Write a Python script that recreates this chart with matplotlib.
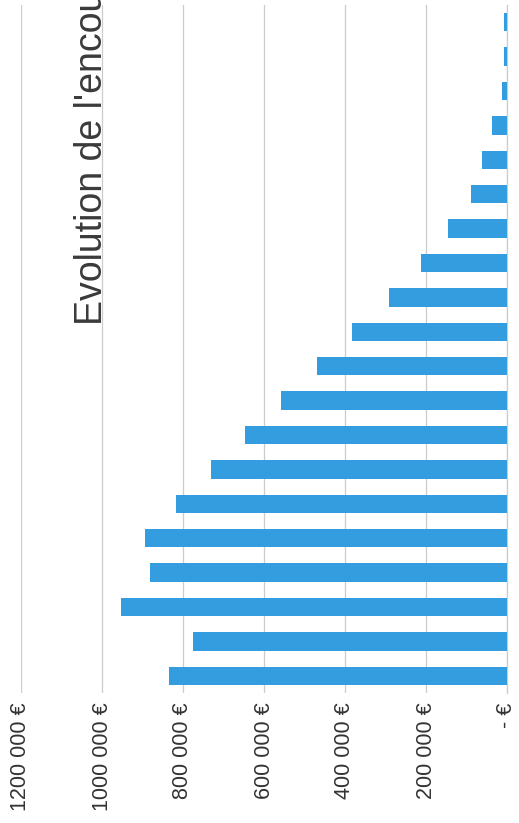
import matplotlib
matplotlib.use("Agg")
import matplotlib.pyplot as plt
import numpy as np

# encours (in euros), first category at the bottom of the rotated chart
encours = [835000, 775000, 953000, 881000, 894000, 817000, 731000, 647000,
           558000, 469000, 383000, 291000, 212000, 146000, 89000, 62000,
           37000, 12000, 7000, 7000]
tick_values = [0, 200000, 400000, 600000, 800000, 1000000, 1200000]
tick_labels = ["- €", "200 000 €", "400 000 €", "600 000 €", "800 000 €",
               "1000 000 €", "1200 000 €"]
title = "Evolution de l'encours"

W, H = 519, 823
fig = plt.figure(figsize=(W / 100, H / 100), dpi=100)
fig.patch.set_facecolor("white")

# axes box in pixels: left 21, right 507, top 5, bottom 693
ax = fig.add_axes([21 / W, 1 - 693 / H, (507 - 21) / W, (693 - 5) / H])

pos = np.arange(len(encours))
ax.barh(pos, encours, height=0.53, color="#339de0", zorder=3)

ax.set_xlim(1200000, 0)
ax.set_ylim(-0.5, len(encours) - 0.5)

ax.set_xticks(tick_values)
ax.set_xticklabels(tick_labels, rotation=90, va="top", ha="center",
                   family=["Liberation Sans", "DejaVu Sans"], fontsize=15.5,
                   color="#333333")
ax.tick_params(axis="x", length=0, pad=7)
ax.set_yticks([])

ax.grid(axis="x", color="#cccccc", linewidth=0.9, zorder=0)
for side in ["top", "bottom", "left"]:
    ax.spines[side].set_visible(False)
ax.spines["right"].set_color("#cccccc")
ax.spines["right"].set_linewidth(0.9)

# title is cut off at the top edge, as in the scanned page
fig.text(102 / W, 1 - 325 / H, title, rotation=90, rotation_mode="anchor",
         ha="left", va="baseline", fontsize=27, color="#3a3a3a",
         family=["Liberation Sans", "DejaVu Sans"])

fig.savefig("out.png", dpi=100, facecolor="white")
